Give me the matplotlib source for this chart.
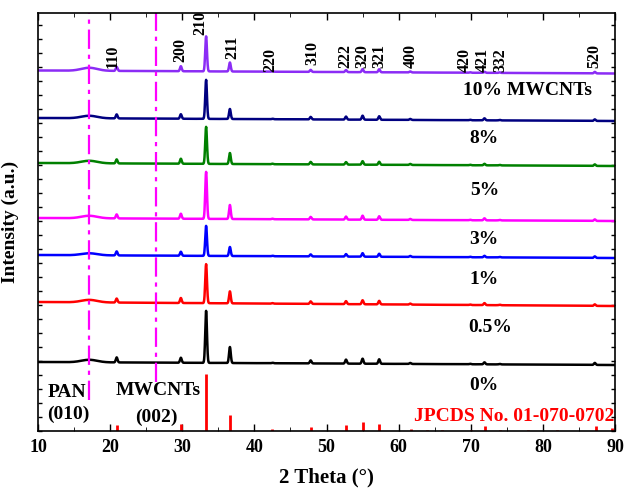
import numpy as np
import matplotlib
matplotlib.use("Agg")
import matplotlib.pyplot as plt
from matplotlib.ticker import MultipleLocator

plt.rcParams['font.family'] = ['Liberation Serif', 'DejaVu Serif']
plt.rcParams['font.weight'] = 'bold'

# ---- data (intensities in arbitrary units, stacked) ----
peak_pos = [20.9, 29.8, 33.3, 36.6, 42.5, 47.8, 52.7, 55.0, 57.3, 61.6, 69.9, 71.9, 74.0, 87.2]

samples = ["10% MWCNTs", "8%", "5%", "3%", "1%", "0.5%", "0%"]
colors = ["#8b2cf5", "#000080", "#008000", "#ff00ff", "#0000ff", "#ff0000", "#000000"]
# baseline at 2θ=10 and 2θ=90
base_left = [360.5, 313, 268, 213, 176, 129, 69]
base_right = [357.5, 310, 265, 210, 173, 125, 66]
pan_hump = [3, 2.5, 2.5, 2.5, 2, 2.5, 2.5]
heights = [
    [4, 5, 35, 9, 0.5, 2, 2, 3, 3, 1, 0.5, 1, 0.5, 1.5],
    [4, 4.5, 39, 10, 0.5, 2.5, 3, 4, 3.5, 1, 0.5, 2, 0.5, 1.5],
    [4, 5, 37, 11, 0.5, 2.5, 2.5, 3.5, 3, 1, 0.5, 1.5, 0.5, 1.5],
    [4, 5, 47, 14, 0.5, 2.5, 3, 4, 3.5, 1, 0.5, 2, 0.5, 1.5],
    [4, 4, 30, 9, 0.5, 2, 2.5, 3.5, 3, 1, 0.5, 1.5, 0.5, 1.5],
    [4, 5, 39, 12, 0.5, 2.5, 3, 4, 3.5, 1, 0.5, 2, 0.5, 1.5],
    [5, 5, 52, 16, 0.5, 3, 4, 5, 4.5, 1, 0.5, 2, 0.5, 2],
]
label_x = [77.9, 71.8, 72.0, 71.8, 71.8, 72.7, 71.8]
label_y = [340, 292, 241, 192, 152, 104, 46]

# reference card JCPDS 01-070-0702
ref_pos = [20.9, 29.8, 33.3, 36.6, 42.5, 47.8, 52.7, 55.0, 57.3, 61.7, 63.9, 66.0,
           70.1, 72.0, 74.0, 77.9, 81.9, 87.4, 89.6]
ref_int = [6, 7, 57, 16, 2, 4, 6, 9, 7, 2, 1, 1, 1.5, 5, 1, 1, 1, 5, 3]

hkl = ["110", "200", "210", "211", "220", "310", "222", "320", "321", "400", "420", "421", "332", "520"]
hkl_x = [20.3, 29.7, 32.5, 36.9, 42.2, 48.0, 52.6, 54.9, 57.3, 61.7, 69.1, 71.6, 74.1, 87.2]
hkl_y = [363, 369, 396, 372, 359, 366, 363, 363, 363, 363, 359, 359, 359, 363]

x = np.arange(10, 90.001, 0.02)

fig = plt.figure(figsize=(6.24, 4.94), dpi=100)
ax = fig.add_axes([0.061, 0.1275, 0.9246, 0.8462])

for i, name in enumerate(samples):
    y = base_left[i] + (base_right[i] - base_left[i]) * (x - 10) / 80
    y = y + pan_hump[i] * np.exp(-0.5 * ((x - 17.1) / 1.1) ** 2)
    for p, h in zip(peak_pos, heights[i]):
        y = y + h * np.exp(-0.5 * ((x - p) / 0.12) ** 2)
    ax.plot(x, y, color=colors[i], lw=1.8)
    ax.text(label_x[i], label_y[i], name, ha='center', va='center', fontsize=14, fontweight='bold')

ax.vlines(ref_pos, 0, ref_int, color='red', lw=2)

for t, px, py in zip(hkl, hkl_x, hkl_y):
    ax.text(px, py, t, rotation=90, ha='center', va='bottom', fontsize=11.5, fontweight='bold')

dd = (0, (8.7, 2.6, 1.9, 2.6))
ax.plot([17.1, 17.1], [31, 418], color='#ff00ff', lw=1.6, linestyle=dd)
ax.plot([26.4, 26.4], [49, 418], color='#ff00ff', lw=1.6, linestyle=dd)

ax.text(14.0, 39, "PAN", ha='center', va='center', fontsize=14, fontweight='bold')
ax.text(14.2, 17, "(010)", ha='center', va='center', fontsize=14, fontweight='bold')
ax.text(26.6, 41, "MWCNTs", ha='center', va='center', fontsize=14, fontweight='bold')
ax.text(26.4, 14, "(002)", ha='center', va='center', fontsize=14, fontweight='bold')
ax.text(89.9, 15, "JPCDS No. 01-070-0702", ha='right', va='center', fontsize=14,
        fontweight='bold', color='red')

ax.set_xlim(10, 90)
ax.set_ylim(0, 418)
ax.xaxis.set_major_locator(MultipleLocator(10))
ax.xaxis.set_minor_locator(MultipleLocator(5))
ax.yaxis.set_major_locator(MultipleLocator(14))
ax.set_yticklabels([])
ax.tick_params(direction='in', top=True, right=True, labelsize=13, width=1, length=5, pad=6)
ax.tick_params(axis='x', which='minor', direction='in', top=True, length=3)
ax.tick_params(axis='y', length=3)
for lab in ax.get_xticklabels():
    lab.set_fontweight('bold')
for s in ax.spines.values():
    s.set_linewidth(1.2)

ax.set_xlabel("2 Theta (°)", fontsize=15, fontweight='bold', labelpad=8)
ax.set_ylabel("Intensity (a.u.)", fontsize=14, fontweight='bold', labelpad=8)

fig.savefig("out.png", dpi=100)
